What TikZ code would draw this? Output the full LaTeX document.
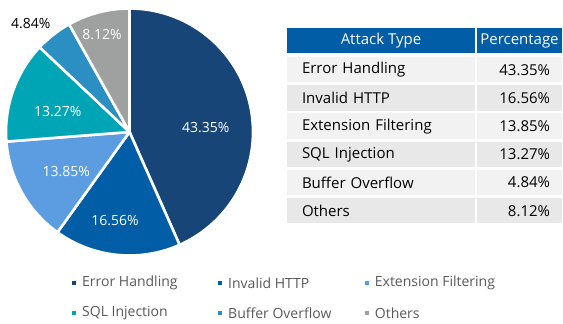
\documentclass[tikz,border=0pt]{standalone}
\usepackage{fontspec}
\setmainfont{Open Sans}
\usepackage{tikz}
\usetikzlibrary{positioning}

\definecolor{cEH}{HTML}{174578}
\definecolor{cIH}{HTML}{005DA6}
\definecolor{cEF}{HTML}{5C9DE2}
\definecolor{cSQL}{HTML}{00A5B5}
\definecolor{cBO}{HTML}{2B8FC3}
\definecolor{cOT}{HTML}{9EA19F}
\definecolor{rowA}{HTML}{F2F2F2}
\definecolor{rowB}{HTML}{E8E8E8}
\definecolor{legtext}{HTML}{595959}

\tikzset{
  slice/.style={draw=white,line width=2.6pt,line join=round},
  pielbl/.style={text=white,font=\fontsize{14}{16}\selectfont,inner sep=0pt},
  cell/.style={minimum height=25.5pt,inner sep=0pt,font=\fontsize{15}{18}\selectfont},
  legbox/.style={fill=#1,minimum size=4pt,inner sep=0pt},
  legtxt/.style={text=legtext,anchor=west,inner sep=0pt,font=\fontsize{14}{16}\selectfont}
}

\begin{document}
\begin{tikzpicture}[x=1pt,y=1pt]
    \useasboundingbox (0,0) rectangle (563,324);

    	% pie slices
    	\coordinate (pc) at (129.5,192);
    	\foreach \i/\a/\b/\c in {1/90/-66.06/cEH,2/-66.06/-125.68/cIH,3/-125.68/-175.54/cEF,4/-175.54/-223.31/cSQL,5/-223.31/-240.73/cBO,6/-240.73/-270/cOT}{
    		\fill[\c,slice] (pc) -- ++(\a:123.5) arc[start angle=\a,end angle=\b,radius=123.5] -- cycle;
    	}

    	\node[pielbl] (lEH) at (205.7,196.7) {43.35\%};
    	\node[pielbl] (lIH) at (115,103.3) {16.56\%};
    	\node[pielbl] (lEF) at (66.3,152.7) {13.85\%};
    	\node[pielbl] (lSQL) at (57.7,212.3) {13.27\%};
    	\node[pielbl] (lOT) at (102,289) {8.12\%};
    	\node[pielbl,text=black] (lBO) at (30.7,300.3) {4.84\%};

    	% table
    	\node[cell,fill=cIH,text=white,minimum width=188pt] (hType) at (381,283.5) {Attack Type};
    	\node[cell,fill=cIH,text=white,minimum width=85pt] (hPct) at (519.5,283.5) {Percentage};
    	\foreach \i/\name/\val/\rc in {1/Error Handling/43.35/rowA,2/Invalid HTTP/16.56/rowB,3/Extension Filtering/13.85/rowA,4/SQL Injection/13.27/rowB,5/Buffer Overflow/4.84/rowA,6/Others/8.12/rowB}{
    		\node[cell,fill=\rc,minimum width=188pt,text width=158pt,align=left] 
    		(t\i) at (381,254.25-28.2*\i+28.2) {\name};
    		\node[cell,fill=\rc,minimum width=85pt,text width=61pt,align=right] 
    		(p\i) at (519.5,254.25-28.2*\i+28.2) {\val\%};
    	}

    	% legend
    	\foreach \i/\name/\c/\x/\y in {1/Error Handling/cEH/74/41,2/Invalid HTTP/cIH/220/41,3/Extension Filtering/cEF/366.7/41,4/SQL Injection/cSQL/74/11,5/Buffer Overflow/cBO/220/11,6/Others/cOT/366.7/11}{
    		\node[legbox=\c] (m\i) at (\x,\y) {};
    		\node[legtxt] (g\i) at (\x+8,\y) {\name};
    	}
    \end{tikzpicture}
\end{document}
